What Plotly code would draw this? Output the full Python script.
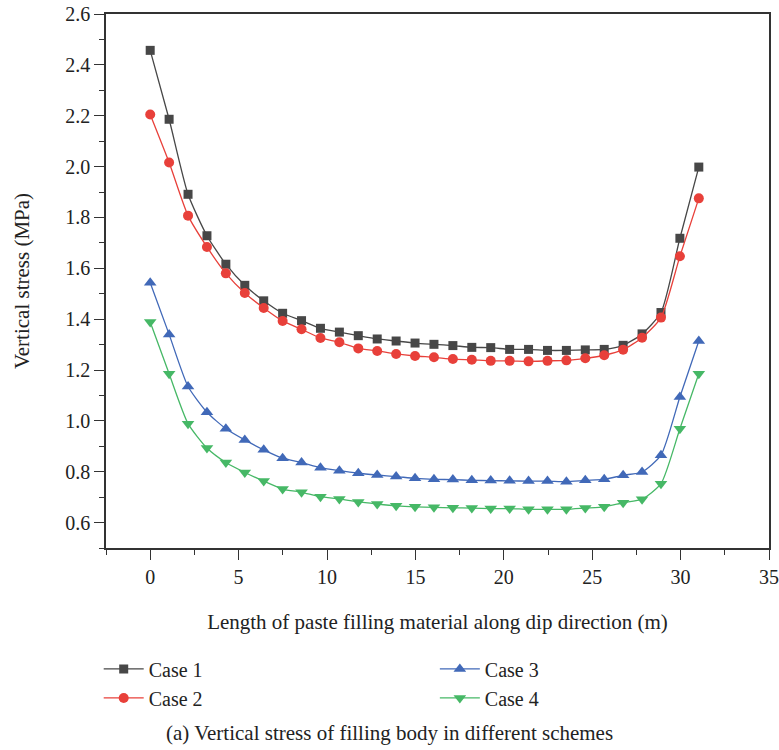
import plotly.graph_objects as go

x_m = [0, 1.07, 2.14, 3.21, 4.28, 5.35, 6.42, 7.49, 8.56, 9.63, 10.7, 11.77, 12.84, 13.91, 14.98,
       16.05, 17.12, 18.19, 19.26, 20.33, 21.4, 22.47, 23.54, 24.61, 25.68, 26.75, 27.82, 28.89, 29.96, 31.03]

case1 = [2.457, 2.186, 1.891, 1.728, 1.616, 1.533, 1.472, 1.423, 1.394, 1.364, 1.349, 1.335, 1.322, 1.314, 1.306,
         1.301, 1.296, 1.289, 1.288, 1.281, 1.281, 1.277, 1.277, 1.279, 1.281, 1.297, 1.342, 1.426, 1.718, 1.998]
case2 = [2.205, 2.016, 1.807, 1.684, 1.580, 1.503, 1.444, 1.393, 1.360, 1.326, 1.309, 1.285, 1.275, 1.263, 1.255,
         1.250, 1.243, 1.240, 1.236, 1.236, 1.234, 1.236, 1.238, 1.246, 1.258, 1.280, 1.327, 1.406, 1.647, 1.875]
case3 = [1.543, 1.340, 1.135, 1.034, 0.969, 0.925, 0.886, 0.853, 0.836, 0.816, 0.804, 0.794, 0.787, 0.781, 0.774,
         0.770, 0.769, 0.766, 0.765, 0.764, 0.763, 0.763, 0.761, 0.766, 0.770, 0.786, 0.799, 0.865, 1.094, 1.314]
case4 = [1.389, 1.185, 0.989, 0.893, 0.836, 0.797, 0.763, 0.732, 0.719, 0.702, 0.693, 0.681, 0.673, 0.666, 0.662,
         0.660, 0.658, 0.657, 0.655, 0.655, 0.652, 0.652, 0.652, 0.657, 0.662, 0.678, 0.692, 0.753, 0.969, 1.185]

names = ["Case 1", "Case 2", "Case 3", "Case 4"]
colors = ["#474747", "#E8403A", "#4169B8", "#46B866"]
symbols = ["square", "circle", "triangle-up", "triangle-down"]
sizes = [9, 10, 11, 11]
legends = ["legend", "legend", "legend2", "legend2"]
series = [case1, case2, case3, case4]

FONT = "Liberation Serif"
FS_TICK = 20
FS = 21
FS_LEG = 20

fig = go.Figure()
for n, c, s, sz, lg, y in zip(names, colors, symbols, sizes, legends, series):
    fig.add_trace(go.Scatter(
        x=x_m, y=y, name=n, mode="lines+markers",
        line=dict(color=c, width=1.3, shape="spline", smoothing=0.6),
        marker=dict(symbol=s, size=sz, color=c),
        legend=lg,
    ))

axis_common = dict(
    showline=True, linecolor="#333333", linewidth=1.5, mirror=True,
    ticks="outside", ticklen=10, tickwidth=1.3, tickcolor="#333333",
    showgrid=False, zeroline=False, automargin=False,
    tickfont=dict(family=FONT, size=FS_TICK, color="#222222"),
    title_font=dict(family=FONT, size=FS, color="#222222"),
)

fig.update_xaxes(
    range=[-2.5, 35], tickmode="linear", tick0=0, dtick=5,
    minor=dict(ticks="outside", ticklen=5, tickwidth=1.3, tickcolor="#333333", tick0=0, dtick=2.5),
    title_text="Length of paste filling material along dip direction (m)",
    title_standoff=28,
    **axis_common,
)
fig.update_yaxes(
    range=[0.5, 2.6], tickmode="linear", tick0=0.6, dtick=0.2, tickformat=".1f",
    minor=dict(ticks="outside", ticklen=5, tickwidth=1.3, tickcolor="#333333", tick0=0.6, dtick=0.1),
    title_text="Vertical stress (MPa)",
    title_standoff=30,
    **axis_common,
)

legend_font = dict(family=FONT, size=FS_LEG, color="#222222")
fig.update_layout(
    width=779, height=750,
    margin=dict(l=106, r=10, t=14, b=202),
    plot_bgcolor="white", paper_bgcolor="white",
    legend=dict(x=-0.011, y=-0.19, xanchor="left", yanchor="top", orientation="v",
                font=legend_font, bgcolor="rgba(0,0,0,0)", itemwidth=40, tracegroupgap=0),
    legend2=dict(x=0.496, y=-0.19, xanchor="left", yanchor="top", orientation="v",
                 font=legend_font, bgcolor="rgba(0,0,0,0)", itemwidth=40, tracegroupgap=0),
    annotations=[dict(
        text="(a) Vertical stress of filling body in different schemes",
        xref="paper", yref="paper", x=0.427, y=-0.346, xanchor="center", yanchor="middle",
        showarrow=False, font=dict(family=FONT, size=FS, color="#222222"),
    )],
)

fig.write_html("out.html", config={"displayModeBar": False},
               post_script="document.body.style.margin='0';")
